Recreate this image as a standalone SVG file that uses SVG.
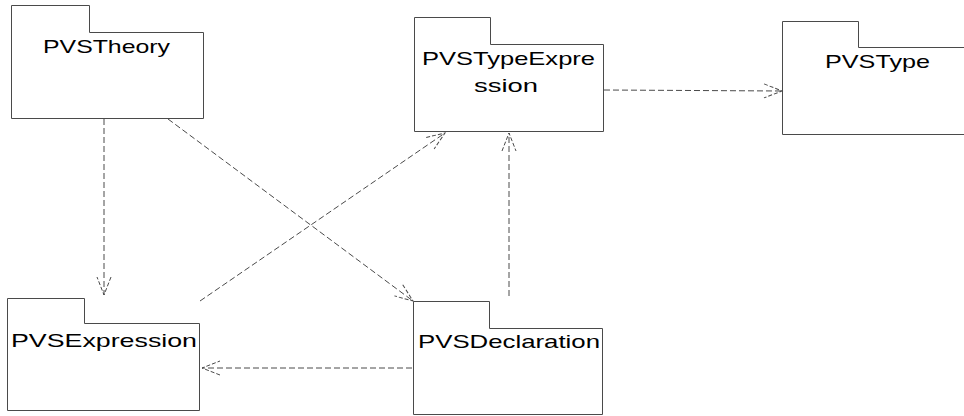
<svg xmlns="http://www.w3.org/2000/svg" width="964" height="416" viewBox="0 0 964 416">
  <style>
    .pkg { fill: #ffffff; stroke: #4a4a4a; stroke-width: 1; }
    .lbl { font-family: "Liberation Sans", Arial, sans-serif; font-size: 19px; fill: #000000; }
    .dep { fill: none; stroke: #4a4a4a; stroke-width: 1; stroke-dasharray: 6 3; marker-end: url(#open); }
  </style>
  <defs>
    <marker id="open" markerUnits="userSpaceOnUse" markerWidth="22" markerHeight="18" refX="19" refY="8" orient="auto">
      <path d="M1,1 L19,8 L1,15" fill="none" stroke="#4a4a4a" stroke-width="1" stroke-dasharray="4 2"/>
    </marker>
  </defs>
  <rect width="964" height="416" fill="#ffffff"/>

  <!-- packages: tab + body drawn as one outline -->
  <g id="PVSTheory">
    <path class="pkg" d="M11.5,5.5 H89.5 V32.5 H203.5 V118.5 H11.5 Z"/>
    <text class="lbl" x="43" y="53" textLength="127" lengthAdjust="spacingAndGlyphs">PVSTheory</text>
  </g>

  <g id="PVSTypeExpression">
    <path class="pkg" d="M414.5,17.5 H490.5 V44.5 H603.5 V131.5 H414.5 Z"/>
    <text class="lbl" x="422" y="65" textLength="173" lengthAdjust="spacingAndGlyphs">PVSTypeExpre</text>
    <text class="lbl" x="474" y="92" textLength="64" lengthAdjust="spacingAndGlyphs">ssion</text>
  </g>

  <g id="PVSType">
    <path class="pkg" d="M782.5,21.5 H858.5 V47.5 H972 V134.5 H782.5 Z"/>
    <text class="lbl" x="825" y="68" textLength="105" lengthAdjust="spacingAndGlyphs">PVSType</text>
  </g>

  <g id="PVSExpression">
    <path class="pkg" d="M7.5,298.5 H84.5 V323.5 H199.5 V410.5 H7.5 Z"/>
    <text class="lbl" x="11" y="347" textLength="186" lengthAdjust="spacingAndGlyphs">PVSExpression</text>
  </g>

  <g id="PVSDeclaration">
    <path class="pkg" d="M413.5,301.5 H489.5 V328.5 H602.5 V414.5 H413.5 Z"/>
    <text class="lbl" x="418" y="348" textLength="182" lengthAdjust="spacingAndGlyphs">PVSDeclaration</text>
  </g>

  <!-- dependencies -->
  <g id="connectors">
    <path class="dep" d="M104,119 V295"/>
    <path class="dep" d="M168,119 L413,301"/>
    <path class="dep" d="M200,301 L445,133"/>
    <path class="dep" d="M509,296 V133"/>
    <path class="dep" d="M412,368 H202"/>
    <path class="dep" d="M604,90 L782,91"/>
  </g>
</svg>
